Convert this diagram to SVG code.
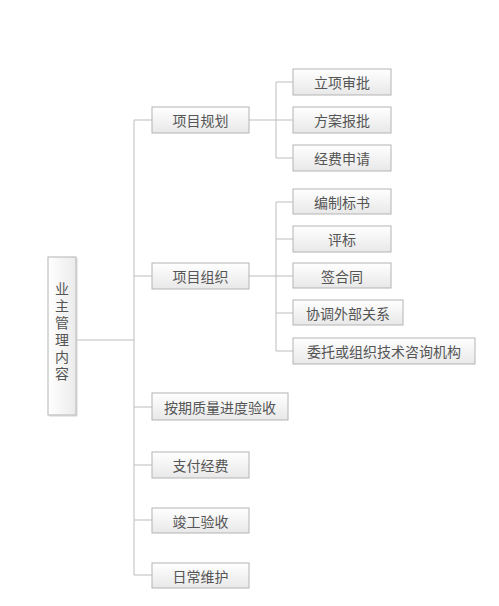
<svg xmlns="http://www.w3.org/2000/svg" width="499" height="606" viewBox="0 0 499 606">
<defs>
<linearGradient id="g" x1="0" y1="0" x2="0" y2="1">
<stop offset="0" stop-color="#ffffff"/>
<stop offset="1" stop-color="#e8e8e8"/>
</linearGradient>
<linearGradient id="gh" x1="0" y1="0" x2="1" y2="0">
<stop offset="0" stop-color="#ffffff"/>
<stop offset="1" stop-color="#ebebeb"/>
</linearGradient>
</defs>
<style>
.b{fill:url(#g);stroke:#b4b4b4;stroke-width:1}
.r{fill:url(#gh);stroke:#b4b4b4;stroke-width:1}
.s{fill:none;stroke:#d4d4d4;stroke-width:1}
.t{font-family:"Noto Sans CJK SC","Noto Sans CJK TC",sans-serif;font-size:14px;fill:#555;text-anchor:middle;dominant-baseline:central}
.v{font-family:"Noto Sans CJK SC","Noto Sans CJK TC",sans-serif;font-size:14px;fill:#555;text-anchor:middle;writing-mode:vertical-rl;letter-spacing:3px}
.c{fill:none;stroke:#bdbdbd;stroke-width:1}
</style>
<rect width="499" height="606" fill="#ffffff"/>
<g id="connectors">
<path class="c" d="M77 340H134M134 120V575M134 120H152M134 276H152M134 407H152M134 465H152M134 520H152M134 575H152"/>
<path class="c" d="M249 120H293M276 82V158M276 82H293M276 158H293"/>
<path class="c" d="M249 276H293M276 202V351M276 202H293M276 239H293M276 313H293M276 351H293"/>
</g>
<g id="root">
<path class="s" d="M49 416H77V258"/>
<rect class="r" x="48" y="257" width="28" height="158"/>
<text class="v" x="62" y="333">业主管理内容</text>
</g>
<g id="n1"><rect class="b" x="152" y="107" width="97" height="26"/><text class="t" x="200.5" y="120">项目规划</text></g>
<g id="n2"><rect class="b" x="152" y="263" width="97" height="26"/><text class="t" x="200.5" y="276">项目组织</text></g>
<g id="n3"><rect class="b" x="152" y="393" width="136" height="27"/><text class="t" x="220" y="407">按期质量进度验收</text></g>
<g id="n4"><rect class="b" x="152" y="452" width="97" height="26"/><text class="t" x="200.5" y="465">支付经费</text></g>
<g id="n5"><rect class="b" x="152" y="508" width="97" height="25"/><text class="t" x="200.5" y="520.5">竣工验收</text></g>
<g id="n6"><rect class="b" x="152" y="563" width="97" height="25"/><text class="t" x="200.5" y="575.5">日常维护</text></g>
<g id="n11"><rect class="b" x="293" y="69" width="98" height="26"/><text class="t" x="342" y="82">立项审批</text></g>
<g id="n12"><rect class="b" x="293" y="107" width="98" height="26"/><text class="t" x="342" y="120">方案报批</text></g>
<g id="n13"><rect class="b" x="293" y="145" width="98" height="26"/><text class="t" x="342" y="158">经费申请</text></g>
<g id="n21"><rect class="b" x="293" y="189" width="98" height="25"/><text class="t" x="342" y="201.5">编制标书</text></g>
<g id="n22"><rect class="b" x="293" y="226" width="98" height="26"/><text class="t" x="342" y="239">评标</text></g>
<g id="n23"><rect class="b" x="293" y="263" width="98" height="25"/><text class="t" x="342" y="275.5">签合同</text></g>
<g id="n24"><rect class="b" x="293" y="300" width="110" height="25"/><text class="t" x="348" y="312.5">协调外部关系</text></g>
<g id="n25"><rect class="b" x="293" y="338" width="182" height="26"/><text class="t" x="384" y="351">委托或组织技术咨询机构</text></g>
</svg>
